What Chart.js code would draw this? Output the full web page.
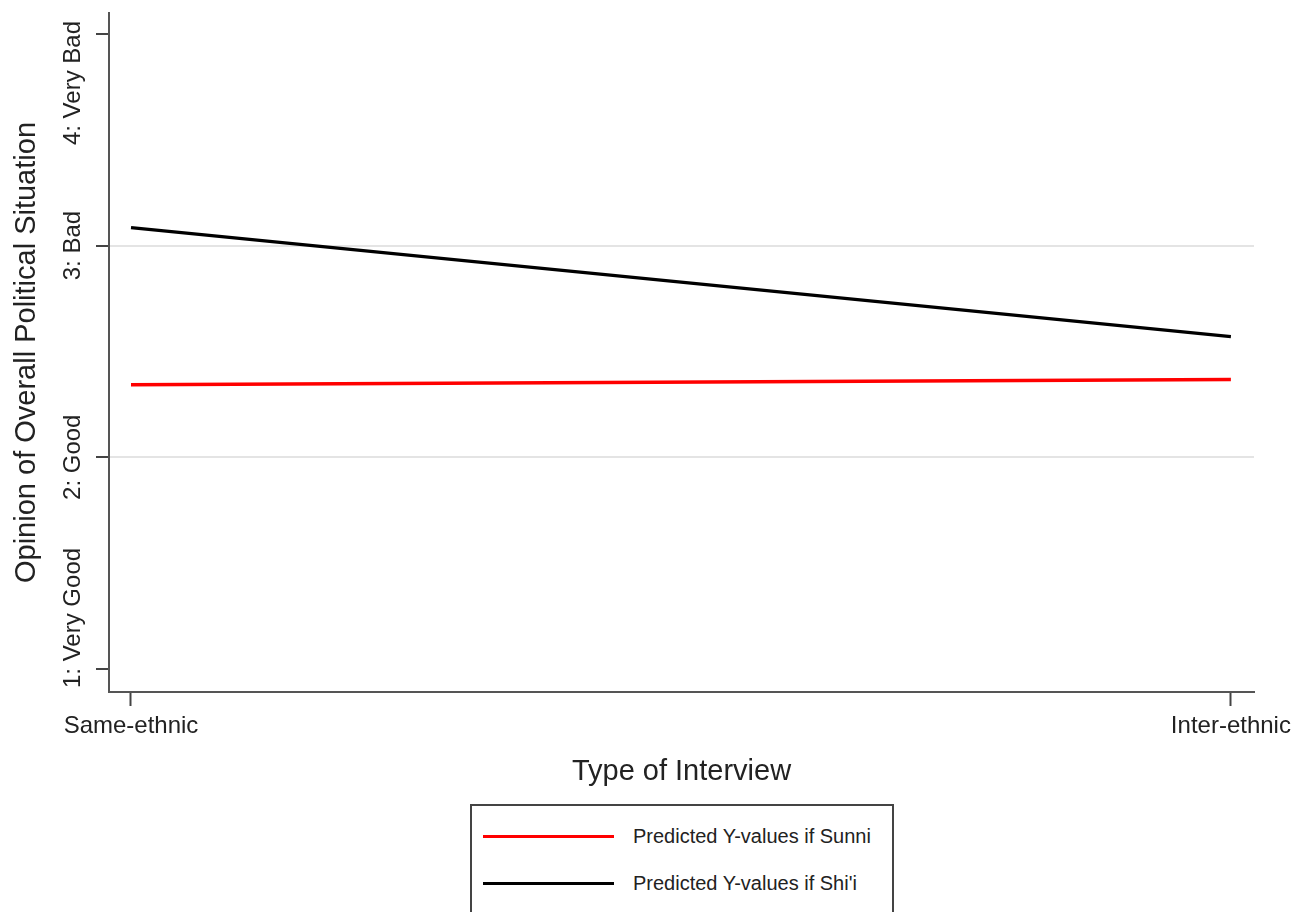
<!DOCTYPE html>
<html>
<head>
<meta charset="utf-8">
<script src="https://cdn.jsdelivr.net/npm/chart.js@4.4.1/dist/chart.umd.min.js"></script>
<style>
  html, body { margin: 0; padding: 0; background: #fff; overflow: hidden; }
  #wrap { position: relative; width: 1292px; height: 912px; }
  #legend {
    position: absolute; left: 470px; top: 804px; width: 420px; height: 140px;
    border: 2px solid #444; background: #fff;
    font-family: "Liberation Sans", Arial, sans-serif; font-size: 20px; color: #222;
  }
  #legend .item { position: absolute; left: 11px; display: flex; align-items: center; height: 24px; }
  #legend .swatch { width: 131px; height: 3px; margin-right: 19px; }
</style>
</head>
<body>
<div id="wrap">
  <canvas id="grafica"></canvas>
  <div id="legend"></div>
</div>
<script>
// tipos de entrevista (eje x)
const interviewTypes = ['Same-ethnic', 'Inter-ethnic'];
const interviewX = [0, 1];

// valores predichos por grupo
const sunniValues = [2.343, 2.367];
const shiiValues = [3.085, 2.570];

// escala de opinión (eje y)
const opinionTicks = [1, 2, 3, 4];
const opinionLabels = ['1: Very Good', '2: Good', '3: Bad', '4: Very Bad'];
const gridTicks = [2, 3];

const FONT = '"Liberation Sans", Arial, sans-serif';

const ctx1 = document.getElementById('grafica');

// etiquetas del eje y giradas 90 grados, sin salirse del eje
const rotatedTicks = {
  id: 'rotatedTicks',
  afterDraw(chart) {
    const { ctx, scales: { y } } = chart;
    ctx.save();
    ctx.font = '24px ' + FONT;
    ctx.fillStyle = '#222';
    ctx.textAlign = 'center';
    ctx.textBaseline = 'middle';
    const cx = y.right - 36;
    y.ticks.forEach(t => {
      const text = opinionLabels[opinionTicks.indexOf(t.value)];
      const half = ctx.measureText(text).width / 2;
      let cy = y.getPixelForValue(t.value);
      cy = Math.max(cy, y.top + half + 8);
      cy = Math.min(cy, y.bottom - half - 4);
      ctx.save();
      ctx.translate(cx, cy);
      ctx.rotate(-Math.PI / 2);
      ctx.fillText(text, 0, 0);
      ctx.restore();
    });
    ctx.restore();
  }
};

const chart = new Chart(ctx1, {
  type: 'line',
  data: {
    datasets: [
      {
        label: 'Predicted Y-values if Sunni',
        data: interviewX.map((x, i) => ({ x, y: sunniValues[i] })),
        borderColor: '#ff0000',
        borderWidth: 3.5,
        pointRadius: 0
      },
      {
        label: "Predicted Y-values if Shi'i",
        data: interviewX.map((x, i) => ({ x, y: shiiValues[i] })),
        borderColor: '#000000',
        borderWidth: 3.5,
        pointRadius: 0
      }
    ]
  },
  options: {
    responsive: true,
    maintainAspectRatio: false,
    animation: false,
    layout: { padding: { left: 0, right: 38, top: 13, bottom: 0 } },
    plugins: {
      legend: { display: false },
      tooltip: { enabled: false }
    },
    scales: {
      x: {
        type: 'linear',
        min: -0.02,
        max: 1.021,
        afterBuildTicks: s => { s.ticks = interviewX.map(v => ({ value: v })); },
        afterFit: s => { s.height = 220; s.paddingLeft = 0; s.paddingRight = 0; },
        ticks: {
          callback: v => interviewTypes[interviewX.indexOf(v)],
          font: { family: FONT, size: 24 },
          color: '#222',
          padding: 6,
          maxRotation: 0,
          autoSkip: false
        },
        grid: {
          drawOnChartArea: false,
          drawTicks: true,
          tickLength: 14,
          tickColor: '#444',
          tickWidth: 2
        },
        border: { color: '#555', width: 2 },
        title: {
          display: true,
          text: 'Type of Interview',
          font: { family: FONT, size: 29 },
          color: '#222',
          padding: { top: 0, bottom: 123 }
        }
      },
      y: {
        min: 0.891,
        max: 4.099,
        afterBuildTicks: s => { s.ticks = opinionTicks.map(v => ({ value: v })); },
        afterFit: s => { s.width = 109; },
        ticks: { display: false },
        grid: {
          color: c => gridTicks.includes(c.tick && c.tick.value) ? '#e4e4e4' : 'rgba(0,0,0,0)',
          lineWidth: 2,
          drawTicks: true,
          tickLength: 13,
          tickColor: '#444',
          tickWidth: 2
        },
        border: { color: '#555', width: 2 },
        title: {
          display: true,
          text: 'Opinion of Overall Political Situation',
          font: { family: FONT, size: 29 },
          color: '#222',
          padding: { top: 10, bottom: 0 }
        }
      }
    }
  },
  plugins: [rotatedTicks]
});

// leyenda con recuadro, generada a partir de los datasets
const legend = document.getElementById('legend');
const rowCenters = [30, 77];
chart.data.datasets.forEach((ds, i) => {
  const item = document.createElement('div');
  item.className = 'item';
  item.style.top = (rowCenters[i] - 12) + 'px';
  const sw = document.createElement('span');
  sw.className = 'swatch';
  sw.style.background = ds.borderColor;
  const txt = document.createElement('span');
  txt.textContent = ds.label;
  item.appendChild(sw);
  item.appendChild(txt);
  legend.appendChild(item);
});
</script>
</body>
</html>
